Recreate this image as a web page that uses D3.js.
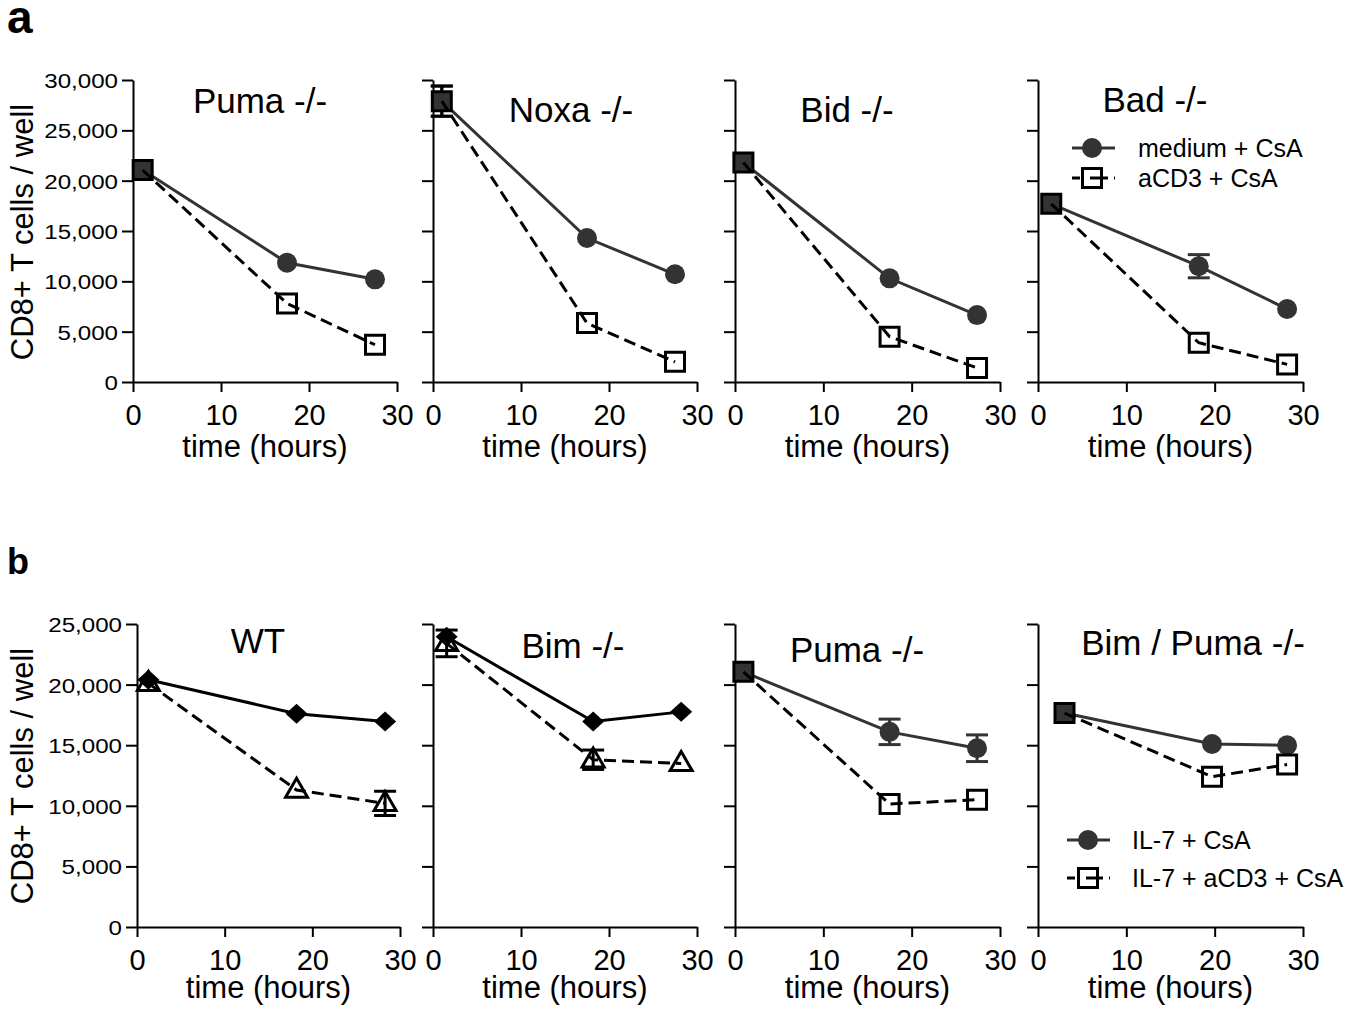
<!DOCTYPE html>
<html>
<head>
<meta charset="utf-8">
<script src="https://cdn.jsdelivr.net/npm/d3@7"></script>
<style>
  body { margin: 0; background: #fff; }
  svg { display: block; font-family: "Liberation Sans", Arial, Helvetica, sans-serif; }
</style>
</head>
<body>
<script>
// ---------- DATA ----------
// Row a
const titlesA = ["Puma -/-", "Noxa -/-", "Bid -/-", "Bad -/-"];
const timesA = [[1.1, 17.5, 27.5], [1.0, 17.5, 27.5], [0.95, 17.5, 27.4], [1.5, 18.2, 28.2]];
const mediumCsA = [[21050, 11850, 10200], [27900, 14300, 10700], [21800, 10300, 6650], [17700, 11500, 7250]];
const mediumCsAErr = [[0, 0, 0], [1500, 0, 0], [0, 0, 0], [0, 1150, 0]];
const aCD3CsA = [[21050, 7800, 3700], [27900, 5850, 2000], [21800, 4500, 1400], [17700, 3900, 1750]];
const aCD3CsAErr = [[0, 0, 0], [1500, 0, 0], [0, 0, 0], [0, 0, 0]];
const yTicksA = [0, 5000, 10000, 15000, 20000, 25000, 30000];
const legendA = ["medium + CsA", "aCD3 + CsA"];

// Row b
const titlesB = ["WT", "Bim -/-", "Puma -/-", "Bim / Puma -/-"];
const timesB = [[1.3, 18.2, 28.3], [1.55, 18.2, 28.2], [0.95, 17.5, 27.4], [3.0, 19.7, 28.2]];
const il7CsA = [[20400, 17600, 16950], [23950, 16950, 17750], [21050, 16100, 14750], [17650, 15100, 15000]];
const il7CsAErr = [[0, 0, 0], [0, 0, 0], [0, 1050, 1100], [0, 0, 0]];
const il7aCD3CsA = [[20100, 11300, 10200], [23400, 13800, 13500], [21050, 10150, 10500], [17650, 12400, 13400]];
const il7aCD3CsAErr = [[0, 0, 1000], [1100, 800, 0], [0, 0, 0], [0, 0, 0]];
const yTicksB = [0, 5000, 10000, 15000, 20000, 25000];
const legendB = ["IL-7 + CsA", "IL-7 + aCD3 + CsA"];
const markerStyleB = ["diamond", "diamond", "circle", "circle"];

const xTicks = [0, 10, 20, 30];
const yLabel = "CD8+ T cells / well";
const xLabel = "time (hours)";

// ---------- LAYOUT ----------
const svg = d3.select("body").append("svg").attr("width", 1357).attr("height", 1010);

const rows = [
  { x0: [133, 433, 735, 1038], x1: [397, 697, 1000, 1303], yb: 382, yt: 80, ymax: 30000, yTicks: yTicksA,
    titles: titlesA, times: timesA, s1: mediumCsA, e1: mediumCsAErr, s2: aCD3CsA, e2: aCD3CsAErr,
    style: ["circle", "circle", "circle", "circle"],
    titlePos: [[260, 113], [571, 122], [847, 122], [1155, 112]],
    xLabY: 457, tickY: 43, ylabCenter: 232, letter: "a", letterY: 33, letterSize: 46 },
  { x0: [137, 433, 735, 1038], x1: [400, 697, 1000, 1303], yb: 927, yt: 624, ymax: 25000, yTicks: yTicksB,
    titles: titlesB, times: timesB, s1: il7CsA, e1: il7CsAErr, s2: il7aCD3CsA, e2: il7aCD3CsAErr,
    style: markerStyleB,
    titlePos: [[258, 653], [573, 658], [857, 662], [1193, 655]],
    xLabY: 998, tickY: 43, ylabCenter: 776, letter: "b", letterY: 574, letterSize: 36 }
];

const grey = "#333333";
const dashArr = "12,6";
const fmt = d3.format(",");

function sqPath(s) { return `M${-s},${-s}H${s}V${s}H${-s}Z`; }
function diamondPath(w, h) { return `M0,${-h}L${w},0L0,${h}L${-w},0Z`; }
function triPath(w, h) { return `M0,${-h * 0.62}L${w},${h * 0.38}L${-w},${h * 0.38}Z`; }

rows.forEach((R) => {
  // panel letter
  svg.append("text").attr("x", 7).attr("y", R.letterY)
    .attr("font-size", R.letterSize).attr("font-weight", "bold").text(R.letter);

  // y label
  svg.append("text")
    .attr("transform", `translate(33,${R.ylabCenter}) rotate(-90)`)
    .attr("text-anchor", "middle").attr("font-size", 31).text(yLabel);

  for (let i = 0; i < 4; i++) {
    const x = d3.scaleLinear().domain([0, 30]).range([R.x0[i], R.x1[i]]);
    const y = d3.scaleLinear().domain([0, R.ymax]).range([R.yb, R.yt]);
    const g = svg.append("g");

    // x axis
    const gx = g.append("g").attr("transform", `translate(0,${R.yb})`)
      .call(d3.axisBottom(x).tickValues(xTicks).tickSize(10).tickSizeOuter(0).tickFormat(d3.format("d")));
    gx.attr("font-family", null);
    gx.select(".domain").attr("stroke", "#000").attr("stroke-width", 2);
    gx.selectAll(".tick line").attr("stroke", "#000").attr("stroke-width", 2);
    gx.selectAll(".tick text").attr("y", R.tickY).attr("dy", 0)
      .attr("font-size", 29).attr("fill", "#000");

    // y axis
    const gy = g.append("g").attr("transform", `translate(${R.x0[i]},0)`)
      .call(d3.axisLeft(y).tickValues(R.yTicks).tickSize(11).tickSizeOuter(0)
        .tickFormat(i === 0 ? fmt : () => ""));
    gy.attr("font-family", null);
    gy.select(".domain").attr("stroke", "#000").attr("stroke-width", 2);
    gy.selectAll(".tick line").attr("stroke", "#000").attr("stroke-width", 2);
    gy.selectAll(".tick text").attr("x", -15 / 1.15).attr("dy", "0.36em")
      .attr("transform", "scale(1.15,1)")
      .attr("font-size", 21).attr("fill", "#000");

    // x label
    g.append("text").attr("x", (R.x0[i] + R.x1[i]) / 2).attr("y", R.xLabY)
      .attr("text-anchor", "middle").attr("font-size", 31).text(xLabel);

    // title
    g.append("text").attr("x", R.titlePos[i][0]).attr("y", R.titlePos[i][1])
      .attr("text-anchor", "middle").attr("font-size", 35).text(R.titles[i]);

    const t = R.times[i];
    const d1 = t.map((tt, k) => ({ t: tt, v: R.s1[i][k], e: R.e1[i][k], k }));
    const d2 = t.map((tt, k) => ({ t: tt, v: R.s2[i][k], e: R.e2[i][k], k }));
    const line = d3.line().x(d => x(d.t)).y(d => y(d.v));
    const isDia = R.style[i] === "diamond";

    function errBars(data, color) {
      const eb = g.append("g").attr("stroke", color).attr("stroke-width", 3);
      data.filter(d => d.e > 0).forEach(d => {
        const cx = x(d.t);
        eb.append("line").attr("x1", cx).attr("x2", cx).attr("y1", y(d.v - d.e)).attr("y2", y(d.v + d.e));
        eb.append("line").attr("x1", cx - 11).attr("x2", cx + 11).attr("y1", y(d.v - d.e)).attr("y2", y(d.v - d.e));
        eb.append("line").attr("x1", cx - 11).attr("x2", cx + 11).attr("y1", y(d.v + d.e)).attr("y2", y(d.v + d.e));
      });
    }

    if (isDia) {
      errBars(d2, "#000");
      g.append("path").datum(d2).attr("d", line).attr("fill", "none")
        .attr("stroke", "#000").attr("stroke-width", 3).attr("stroke-dasharray", dashArr);
      g.selectAll(null).data(d2).enter().append("path")
        .attr("transform", d => `translate(${x(d.t)},${y(d.v)})`)
        .attr("d", triPath(11, 19)).attr("fill", "none").attr("stroke", "#000").attr("stroke-width", 3);
      errBars(d1, "#000");
      g.append("path").datum(d1).attr("d", line).attr("fill", "none")
        .attr("stroke", "#000").attr("stroke-width", 3);
      g.selectAll(null).data(d1).enter().append("path")
        .attr("transform", d => `translate(${x(d.t)},${y(d.v)})`)
        .attr("d", diamondPath(11, 10)).attr("fill", "#000");
    } else {
      errBars(d1, grey);
      g.append("path").datum(d1).attr("d", line).attr("fill", "none")
        .attr("stroke", grey).attr("stroke-width", 3);
      g.selectAll(null).data(d1).enter().append("circle")
        .attr("cx", d => x(d.t)).attr("cy", d => y(d.v)).attr("r", 10).attr("fill", grey);
      errBars(d2, "#000");
      g.selectAll(null).data(d2).enter().append("path")
        .attr("transform", d => `translate(${x(d.t)},${y(d.v)})`)
        .attr("d", sqPath(9.5)).attr("fill", d => d.k === 0 ? grey : "none")
        .attr("stroke", "#000").attr("stroke-width", 3);
      g.append("path").datum(d2).attr("d", line).attr("fill", "none")
        .attr("stroke", "#000").attr("stroke-width", 3).attr("stroke-dasharray", dashArr);
    }
  }
});

// ---------- LEGENDS ----------
function legend(items, lx0, lx1, mx, ys, tx) {
  const lg = svg.append("g");
  lg.append("line").attr("x1", lx0).attr("x2", lx1).attr("y1", ys[0]).attr("y2", ys[0])
    .attr("stroke", grey).attr("stroke-width", 3);
  lg.append("circle").attr("cx", mx).attr("cy", ys[0]).attr("r", 10).attr("fill", grey);
  lg.append("text").attr("x", tx).attr("y", ys[0]).attr("dy", "0.36em").attr("font-size", 25).text(items[0]);
  lg.append("line").attr("x1", lx0).attr("x2", lx1).attr("y1", ys[1]).attr("y2", ys[1])
    .attr("stroke", "#000").attr("stroke-width", 3).attr("stroke-dasharray", "8,6");
  lg.append("path").attr("transform", `translate(${mx},${ys[1]})`).attr("d", sqPath(9.5))
    .attr("fill", "#fff").attr("stroke", "#000").attr("stroke-width", 3);
  lg.append("line").attr("x1", mx - 2).attr("x2", mx + 8).attr("y1", ys[1]).attr("y2", ys[1])
    .attr("stroke", "#000").attr("stroke-width", 3);
  lg.append("text").attr("x", tx).attr("y", ys[1]).attr("dy", "0.36em").attr("font-size", 25).text(items[1]);
}
legend(legendA, 1072, 1115, 1092, [148, 178], 1138);
legend(legendB, 1067, 1110, 1088, [840, 878], 1132);
</script>
</body>
</html>
